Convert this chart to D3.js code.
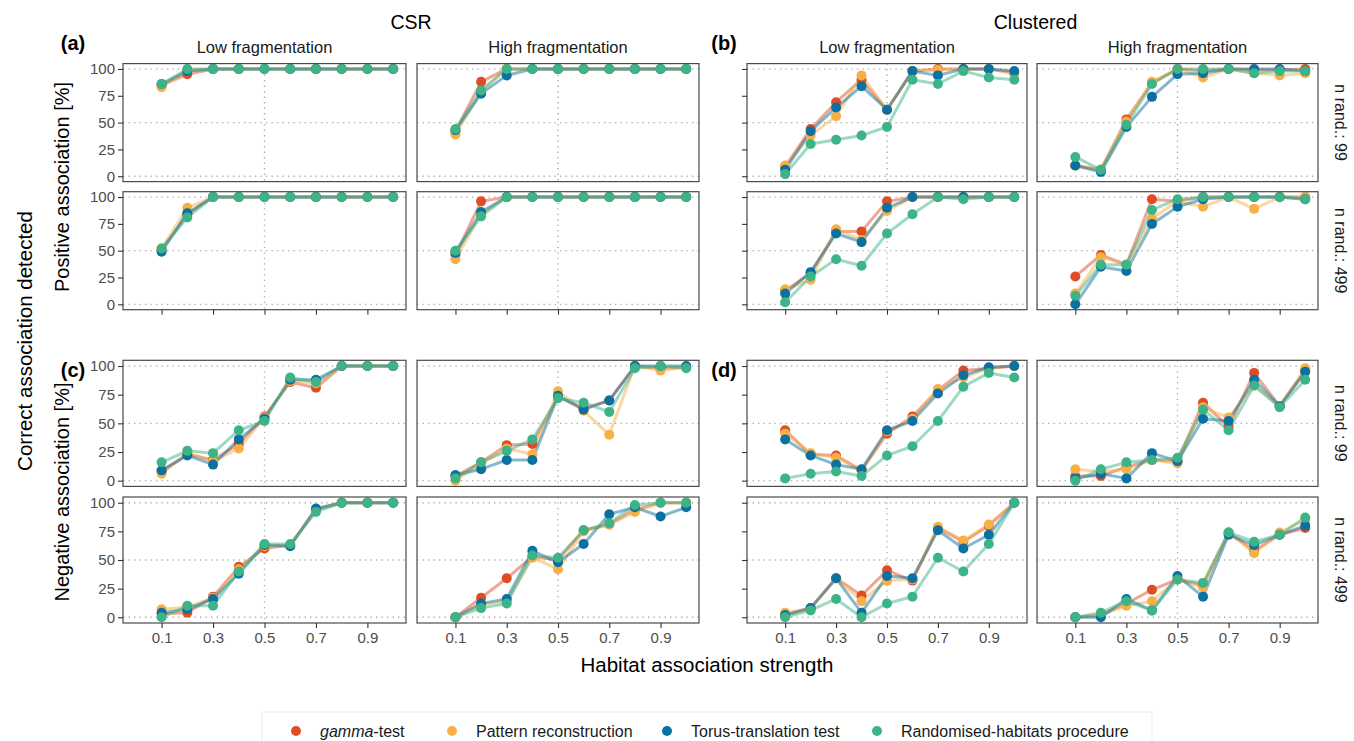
<!DOCTYPE html>
<html>
<head>
<meta charset="utf-8">
<script src="https://cdn.jsdelivr.net/npm/d3@7"></script>
<style>
  body { margin: 0; background: #fff; }
  text { font-family: "Liberation Sans", Arial, sans-serif; }
</style>
</head>
<body>
<script>
// habitat association strength (x values) and x tick labels
const strength = [0.1, 0.2, 0.3, 0.4, 0.5, 0.6, 0.7, 0.8, 0.9, 1.0];
const xTicks = [0.1, 0.3, 0.5, 0.7, 0.9];
const yTicks = [0, 25, 50, 75, 100];

const methods = ["gamma-test", "Pattern reconstruction", "Torus-translation test", "Randomised-habitats procedure"];
const colors = ["#E04D25", "#F8B046", "#0C71A0", "#3DB488"];

// each panel: rows = gamma, pattern reconstruction, torus, randomised habitats
const csrLowPos99 = [
  [85, 95, 100, 100, 100, 100, 100, 100, 100, 100],
  [83, 99, 100, 100, 100, 100, 100, 100, 100, 100],
  [86, 98, 100, 100, 100, 100, 100, 100, 100, 100],
  [86, 100, 100, 100, 100, 100, 100, 100, 100, 100]
];
const csrHighPos99 = [
  [42, 88, 100, 100, 100, 100, 100, 100, 100, 100],
  [39, 79, 100, 100, 100, 100, 100, 100, 100, 100],
  [43, 77, 94, 100, 100, 100, 100, 100, 100, 100],
  [44, 80, 100, 100, 100, 100, 100, 100, 100, 100]
];
const csrLowPos499 = [
  [51, 84, 100, 100, 100, 100, 100, 100, 100, 100],
  [52, 90, 100, 100, 100, 100, 100, 100, 100, 100],
  [49, 85, 100, 100, 100, 100, 100, 100, 100, 100],
  [52, 81, 100, 100, 100, 100, 100, 100, 100, 100]
];
const csrHighPos499 = [
  [46, 96, 100, 100, 100, 100, 100, 100, 100, 100],
  [42, 84, 100, 100, 100, 100, 100, 100, 100, 100],
  [48, 86, 100, 100, 100, 100, 100, 100, 100, 100],
  [50, 82, 100, 100, 100, 100, 100, 100, 100, 100]
];
const cluLowPos99 = [
  [9, 44, 69, 90, 62, 98, 100, 100, 100, 96],
  [10, 38, 56, 94, 62, 98, 99, 100, 100, 97],
  [6, 42, 64, 84, 62, 98, 94, 100, 100, 98],
  [2, 30, 34, 38, 46, 90, 86, 98, 92, 90]
];
const cluHighPos99 = [
  [10, 6, 53, 87, 100, 98, 100, 99, 99, 100],
  [10, 6, 51, 88, 100, 92, 100, 96, 94, 96],
  [10, 4, 46, 74, 95, 96, 100, 100, 100, 98],
  [18, 6, 48, 86, 100, 100, 100, 96, 98, 98]
];
const cluLowPos499 = [
  [13, 29, 68, 68, 96, 100, 100, 100, 100, 100],
  [14, 23, 70, 60, 87, 100, 100, 100, 100, 100],
  [10, 30, 66, 58, 90, 100, 100, 100, 100, 100],
  [2, 26, 42, 36, 66, 84, 100, 98, 100, 100]
];
const cluHighPos499 = [
  [26, 46, 37, 98, 96, 100, 100, 100, 100, 100],
  [10, 44, 37, 80, 96, 91, 100, 89, 100, 100],
  [0, 35, 31, 75, 91, 98, 100, 100, 100, 98],
  [8, 37, 37, 88, 98, 100, 100, 100, 100, 98]
];
const csrLowNeg99 = [
  [8, 23, 18, 32, 56, 86, 81, 100, 100, 100],
  [6, 24, 17, 28, 55, 87, 85, 100, 100, 100],
  [9, 22, 14, 36, 54, 88, 88, 100, 100, 100],
  [16, 26, 24, 44, 52, 90, 86, 100, 100, 100]
];
const csrHighNeg99 = [
  [4, 16, 31, 32, 73, 63, 70, 100, 98, 99],
  [0, 15, 28, 23, 78, 61, 40, 100, 96, 99],
  [5, 10, 18, 18, 74, 62, 70, 100, 100, 100],
  [2, 16, 26, 36, 72, 68, 60, 98, 100, 98]
];
const csrLowNeg499 = [
  [3, 4, 18, 44, 60, 63, 94, 100, 100, 100],
  [7, 9, 17, 42, 62, 63, 94, 100, 100, 100],
  [4, 7, 16, 38, 63, 62, 95, 100, 100, 100],
  [0, 10, 10, 40, 64, 64, 92, 100, 100, 100]
];
const csrHighNeg499 = [
  [0, 17, 34, 53, 50, 76, 81, 94, 100, 100],
  [0, 11, 14, 52, 42, 75, 81, 92, 100, 100],
  [0, 12, 16, 58, 48, 64, 90, 96, 88, 96],
  [0, 8, 12, 54, 52, 76, 82, 98, 100, 100]
];
const cluLowNeg99 = [
  [44, 23, 22, 9, 41, 56, 79, 96, 98, 100],
  [41, 24, 20, 9, 43, 54, 80, 90, 98, 100],
  [36, 22, 14, 10, 44, 52, 76, 92, 99, 100],
  [2, 6, 8, 4, 22, 30, 52, 82, 94, 90]
];
const cluHighNeg99 = [
  [4, 4, 12, 18, 17, 68, 47, 94, 65, 96],
  [10, 8, 10, 18, 15, 64, 55, 83, 65, 98],
  [2, 6, 2, 24, 17, 54, 52, 88, 65, 95],
  [0, 10, 16, 18, 20, 62, 44, 83, 64, 88]
];
const cluLowNeg499 = [
  [2, 8, 34, 19, 41, 32, 78, 66, 80, 100],
  [4, 8, 34, 14, 32, 33, 79, 67, 81, 100],
  [2, 8, 34, 4, 36, 34, 76, 60, 72, 100],
  [0, 6, 16, 0, 12, 18, 52, 40, 64, 100]
];
const cluHighNeg499 = [
  [0, 2, 12, 24, 33, 28, 74, 58, 72, 78],
  [0, 2, 10, 14, 33, 26, 74, 56, 74, 85],
  [0, 0, 16, 6, 36, 18, 72, 63, 72, 80],
  [0, 4, 14, 6, 33, 30, 74, 66, 72, 87]
];

// panel grid: [row][col]
const panelData = [
  [csrLowPos99, csrHighPos99, cluLowPos99, cluHighPos99],
  [csrLowPos499, csrHighPos499, cluLowPos499, cluHighPos499],
  [csrLowNeg99, csrHighNeg99, cluLowNeg99, cluHighNeg99],
  [csrLowNeg499, csrHighNeg499, cluLowNeg499, cluHighNeg499]
];
const randLabels = ["n rand.: 99", "n rand.: 499", "n rand.: 99", "n rand.: 499"];

const W = 1354, H = 741;
const colX = [[123, 406], [417, 699], [747, 1027], [1037, 1318]];
const rowY = [[63.6, 181.6], [191.7, 309.7], [360.3, 486.4], [497, 623]];

const svg = d3.select("body").append("svg")
  .attr("width", W)
  .attr("height", H);

svg.append("rect").attr("width", W).attr("height", H).attr("fill", "#fff");

const line = d3.line();

panelData.forEach((row, ri) => {
  row.forEach((series, ci) => {
    const x = d3.scaleLinear().domain([-0.05, 1.05]).range(colX[ci]);
    const y = d3.scaleLinear().domain([-5, 105]).range([rowY[ri][1], rowY[ri][0]]);
    const g = svg.append("g");

    // dotted reference lines
    [0, 50, 100].forEach(v => {
      g.append("line")
        .attr("x1", colX[ci][0]).attr("x2", colX[ci][1])
        .attr("y1", y(v)).attr("y2", y(v))
        .attr("stroke", "#aaa").attr("stroke-width", 1.3)
        .attr("stroke-dasharray", "1.3,4.2");
    });
    g.append("line")
      .attr("x1", x(0.5)).attr("x2", x(0.5))
      .attr("y1", rowY[ri][0]).attr("y2", rowY[ri][1])
      .attr("stroke", "#aaa").attr("stroke-width", 1.3)
      .attr("stroke-dasharray", "1.3,4.2");

    // lines
    series.forEach((vals, mi) => {
      g.append("path")
        .attr("d", line(vals.map((v, i) => [x(strength[i]), y(v)])))
        .attr("fill", "none")
        .attr("stroke", colors[mi])
        .attr("stroke-width", 3)
        .attr("stroke-opacity", 0.5)
        .attr("stroke-linejoin", "round");
    });
    // points
    series.forEach((vals, mi) => {
      g.selectAll(null)
        .data(vals)
        .enter()
        .append("circle")
        .attr("cx", (d, i) => x(strength[i]))
        .attr("cy", d => y(d))
        .attr("r", 5)
        .attr("fill", colors[mi]);
    });

    // frame
    g.append("rect")
      .attr("x", colX[ci][0]).attr("y", rowY[ri][0])
      .attr("width", colX[ci][1] - colX[ci][0])
      .attr("height", rowY[ri][1] - rowY[ri][0])
      .attr("fill", "none").attr("stroke", "#4a4a4a").attr("stroke-width", 1.2);

    // y axis on the left column of each block
    if (ci === 0 || ci === 2) {
      const ax = d3.axisLeft(y).tickValues(yTicks).tickSize(5).tickPadding(3);
      if (ci === 2) ax.tickFormat("");
      const a = svg.append("g")
        .attr("transform", `translate(${colX[ci][0]},0)`)
        .call(ax);
      a.select(".domain").remove();
      a.selectAll("line").attr("stroke", "#333").attr("stroke-width", 1.1);
      a.selectAll("text").attr("fill", "#4d4d4d").style("font-size", "15px")
        .style("font-family", "'Liberation Sans', Arial, sans-serif");
    }

    // x axis at bottom of each block
    if (ri === 1 || ri === 3) {
      const ax = d3.axisBottom(x).tickValues(xTicks).tickSize(5).tickPadding(4);
      if (ri === 1) ax.tickFormat("");
      else ax.tickFormat(d3.format(".1f"));
      const a = svg.append("g")
        .attr("transform", `translate(0,${rowY[ri][1]})`)
        .call(ax);
      a.select(".domain").remove();
      a.selectAll("line").attr("stroke", "#333").attr("stroke-width", 1.1);
      a.selectAll("text").attr("fill", "#4d4d4d").style("font-size", "15px")
        .style("font-family", "'Liberation Sans', Arial, sans-serif");
    }

    // top strips
    if (ri === 0) {
      svg.append("text")
        .attr("x", (colX[ci][0] + colX[ci][1]) / 2)
        .attr("y", 53)
        .attr("text-anchor", "middle")
        .style("font-size", "16.5px")
        .attr("fill", "#1a1a1a")
        .text(ci % 2 === 0 ? "Low fragmentation" : "High fragmentation");
    }
    // right strips
    if (ci === 3) {
      const cy = (rowY[ri][0] + rowY[ri][1]) / 2;
      svg.append("text")
        .attr("transform", `translate(1335,${cy}) rotate(90)`)
        .attr("text-anchor", "middle")
        .style("font-size", "16px")
        .attr("fill", "#1a1a1a")
        .text(randLabels[ri]);
    }
  });
});

// block titles
[["CSR", (colX[0][0] + colX[1][1]) / 2], ["Clustered", (colX[2][0] + colX[3][1]) / 2 + 3]].forEach(([t, cx]) => {
  svg.append("text").attr("x", cx).attr("y", 29).attr("text-anchor", "middle")
    .style("font-size", "19.5px").text(t);
});

// panel tags
[["(a)", 73, 50], ["(b)", 724, 50], ["(c)", 73, 377], ["(d)", 724, 377]].forEach(([t, tx, ty]) => {
  svg.append("text").attr("x", tx).attr("y", ty).attr("text-anchor", "middle")
    .style("font-size", "20px").style("font-weight", "bold").text(t);
});

// axis titles
svg.append("text")
  .attr("x", 707).attr("y", 672).attr("text-anchor", "middle")
  .style("font-size", "20.5px").text("Habitat association strength");
svg.append("text")
  .attr("transform", `translate(32,341) rotate(-90)`).attr("text-anchor", "middle")
  .style("font-size", "20.5px").text("Correct association detected");
svg.append("text")
  .attr("transform", `translate(69,187) rotate(-90)`).attr("text-anchor", "middle")
  .style("font-size", "20px").text("Positive association [%]");
svg.append("text")
  .attr("transform", `translate(69,492) rotate(-90)`).attr("text-anchor", "middle")
  .style("font-size", "20px").text("Negative association [%]");

// legend
const legend = svg.append("g");
legend.append("rect")
  .attr("x", 262).attr("y", 712).attr("width", 890).attr("height", 40)
  .attr("fill", "#fff").attr("stroke", "#ececec");
const legendX = [296, 452, 667, 877];
methods.forEach((m, i) => {
  legend.append("circle").attr("cx", legendX[i]).attr("cy", 731).attr("r", 5).attr("fill", colors[i]);
  const t = legend.append("text").attr("x", legendX[i] + 24).attr("y", 737)
    .style("font-size", "16px").attr("fill", "#1a1a1a");
  if (i === 0) {
    t.append("tspan").style("font-style", "italic").text("gamma");
    t.append("tspan").text("-test");
  } else {
    t.text(m);
  }
});
</script>
</body>
</html>
